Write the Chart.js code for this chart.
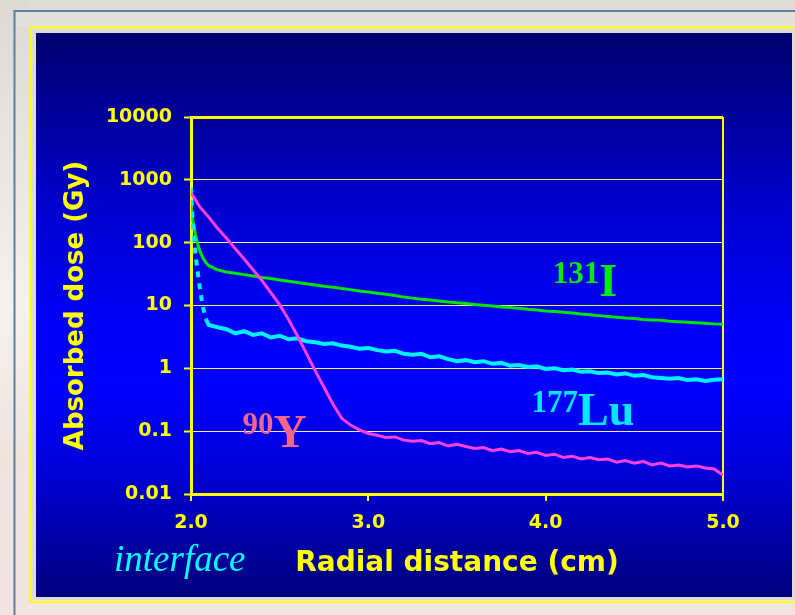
<!DOCTYPE html>
<html>
<head>
<meta charset="utf-8">
<script src="https://cdn.jsdelivr.net/npm/chart.js@4.4.1/dist/chart.umd.min.js"></script>
<style>
html,body{margin:0;padding:0;background:#dfdbd6;}
canvas{display:block;}
</style>
</head>
<body>
<canvas id="doseChart" width="795" height="615"></canvas>
<script>
// tick values + labels
const xTicks=[2,3,4,5];
const yTicks=[0.01,0.1,1,10,100,1000,10000];
const yTickLabels=['0.01','0.1','1','10','100','1000','10000'];

// 90Y (magenta)
const yX=[2.00,2.05,2.10,2.15,2.20,2.25,2.30,2.35,2.40,2.45,2.50,2.55,2.60,2.65,2.70,2.75,2.80,2.85,2.90,2.95,
  3.00,3.05,3.10,3.15,3.20,3.25,3.30,3.35,3.40,3.45,3.50,3.55,3.60,3.65,3.70,3.75,3.80,3.85,3.90,3.95,
  4.00,4.05,4.10,4.15,4.20,4.25,4.30,4.35,4.40,4.45,4.50,4.55,4.60,4.65,4.70,4.75,4.80,4.85,4.90,4.95,5.00];
const yDose=[620,370,255,170,118,80,55,37,25,16,10.3,6.0,3.3,1.75,0.92,0.5,0.27,0.16,0.125,0.105,
  0.092,0.086,0.079,0.081,0.072,0.069,0.071,0.063,0.066,0.058,0.062,0.057,0.053,0.055,0.049,0.052,0.047,0.049,0.044,0.046,
  0.041,0.043,0.038,0.040,0.036,0.038,0.035,0.036,0.032,0.034,0.031,0.033,0.029,0.031,0.028,0.029,0.027,0.028,0.026,0.025,0.020];

// 177Lu (cyan)
const luX=[2.000,2.008,2.025,2.045,2.065,2.085,2.10,2.15,2.20,2.25,2.30,2.35,2.40,2.45,2.50,2.55,2.60,2.65,2.70,2.75,2.80,2.85,2.90,2.95,
  3.00,3.05,3.10,3.15,3.20,3.25,3.30,3.35,3.40,3.45,3.50,3.55,3.60,3.65,3.70,3.75,3.80,3.85,3.90,3.95,
  4.00,4.05,4.10,4.15,4.20,4.25,4.30,4.35,4.40,4.45,4.50,4.55,4.60,4.65,4.70,4.75,4.80,4.85,4.90,4.95,5.00];
const luDose=[750,240,65,24,10,6.0,4.9,4.5,4.2,3.6,3.9,3.4,3.6,3.1,3.3,2.9,3.0,2.7,2.6,2.45,2.5,2.3,2.2,2.05,
  2.1,1.95,1.85,1.9,1.7,1.65,1.7,1.5,1.55,1.4,1.3,1.35,1.25,1.3,1.18,1.22,1.1,1.13,1.05,1.08,
  0.98,1.0,0.93,0.96,0.88,0.9,0.84,0.86,0.8,0.83,0.76,0.78,0.72,0.7,0.68,0.7,0.65,0.67,0.63,0.66,0.67];

// 131I (green)
const iX=[2.000,2.010,2.025,2.040,2.055,2.070,2.085,2.10,2.15,2.20,2.25,2.30,2.35,2.40,2.45,2.50,2.55,2.60,2.65,2.70,2.75,2.80,2.85,2.90,2.95,
  3.00,3.05,3.10,3.15,3.20,3.25,3.30,3.35,3.40,3.45,3.50,3.55,3.60,3.65,3.70,3.75,3.80,3.85,3.90,3.95,
  4.00,4.05,4.10,4.15,4.20,4.25,4.30,4.35,4.40,4.45,4.50,4.55,4.60,4.65,4.70,4.75,4.80,4.85,4.90,4.95,5.00];
const iDose=[420,230,135,90,68,55,48,43,37,34,32.5,31,29.5,28,26.8,25.5,24.3,23.3,22.2,21.2,20.3,19.6,18.6,17.9,17.0,
  16.4,15.7,15.1,14.4,13.6,13.1,12.6,12.2,11.8,11.4,11.1,10.8,10.4,10.1,9.8,9.5,9.3,9.0,8.7,8.5,
  8.2,8.0,7.8,7.6,7.3,7.1,6.9,6.7,6.5,6.3,6.2,6.0,5.9,5.8,5.6,5.5,5.4,5.3,5.2,5.1,5.05];

// nuclide names written next to the curves (data coords)
const nuclideLabels=[
  {sup:'131',main:'I',x:4.04,y:14.2,color:'#00ee00'},
  {sup:'177',main:'Lu',x:3.92,y:0.126,color:'#00e6ff'},
  {sup:'90',main:'Y',x:2.29,y:0.057,color:'#f2668a'}
];

const yellow='#ffff00';
const toPts=(xs,ys)=>xs.map((x,i)=>({x:x,y:ys[i]}));

// slide background, frames and blue panel
const slideBg={
  id:'slideBg',
  beforeDraw(chart){
    const c=chart.ctx;
    c.save();
    c.fillStyle='#dfdbd6'; c.fillRect(0,0,795,615);
    const side=c.createLinearGradient(0,0,0,615);
    side.addColorStop(0,'#dcd9d4'); side.addColorStop(0.5,'#f4f2ea'); side.addColorStop(0.75,'#eee4de'); side.addColorStop(1,'#f2e4e0');
    c.fillStyle=side; c.fillRect(0,0,30,615); c.fillRect(0,600,795,15);
    c.strokeStyle='#5b7fa6'; c.lineWidth=2;
    c.beginPath(); c.moveTo(14.5,615); c.lineTo(14.5,11); c.lineTo(795,11); c.stroke();
    c.fillStyle='#e3dfdb'; c.fillRect(16,12,779,15);
    c.strokeStyle=yellow; c.lineWidth=2;
    c.strokeRect(30.5,27.5,800,574.5);
    const g=c.createLinearGradient(0,33,0,597);
    g.addColorStop(0,'#000070'); g.addColorStop(0.15,'#00009c'); g.addColorStop(0.3,'#0000cc');
    g.addColorStop(0.5,'#0000f6'); g.addColorStop(0.62,'#0000ff'); g.addColorStop(0.76,'#0000de');
    g.addColorStop(0.9,'#0000a6'); g.addColorStop(1,'#00007c');
    c.fillStyle=g; c.fillRect(36,33,756,564);
    c.restore();
  }
};

// isotope names + "interface"
const isoText={
  id:'isoText',
  afterDraw(chart){
    const c=chart.ctx, sx=chart.scales.x, sy=chart.scales.y;
    c.save();
    c.textBaseline='alphabetic'; c.textAlign='left';
    nuclideLabels.forEach(l=>{
      const px=sx.getPixelForValue(l.x), py=sy.getPixelForValue(l.y);
      c.fillStyle=l.color;
      c.font='bold 31px "Liberation Serif", serif';
      c.fillText(l.sup,px,py-13);
      const w=c.measureText(l.sup).width;
      c.font='bold 46px "Liberation Serif", serif';
      c.fillText(l.main,px+w,py);
    });
    c.fillStyle='#00ffff';
    c.font='italic 37px "Liberation Serif", serif';
    c.fillText('interface',sx.getPixelForValue(2)-77,571);
    c.restore();
  }
};

const tickFont={family:'"DejaVu Sans", Verdana, sans-serif',weight:'bold',size:19};
const xTitleFont={family:'"DejaVu Sans", Verdana, sans-serif',weight:'bold',size:28};
const yTitleFont={family:'"DejaVu Sans", Verdana, sans-serif',weight:'bold',size:26};

new Chart(document.getElementById('doseChart'),{
  type:'line',
  data:{
    datasets:[
      {label:'90Y',data:toPts(yX,yDose),borderColor:'#ff40e0',borderWidth:3},
      {label:'177Lu',data:toPts(luX,luDose),borderColor:'#00f0ff',borderWidth:4,
        segment:{borderDash:s=>s.p1.parsed.x<=2.09?[6,6]:undefined}},
      {label:'131I',data:toPts(iX,iDose),borderColor:'#00e400',borderWidth:3}
    ]
  },
  options:{
    responsive:false,
    animation:false,
    layout:{padding:{left:61,top:117,right:72,bottom:34}},
    elements:{point:{radius:0},line:{tension:0}},
    plugins:{legend:{display:false},tooltip:{enabled:false}},
    scales:{
      x:{
        type:'linear',min:2,max:5,
        afterBuildTicks:s=>{s.ticks=xTicks.map(v=>({value:v}));},
        afterFit:s=>{s.height=87;},
        ticks:{color:yellow,font:tickFont,padding:11,maxRotation:0,callback:v=>v.toFixed(1)},
        grid:{
          color:c=>c.tick&&c.tick.value===5?yellow:'rgba(0,0,0,0)',
          lineWidth:2,tickLength:7,tickColor:yellow,tickWidth:2
        },
        border:{color:yellow,width:3},
        title:{display:true,text:'Radial distance (cm)',color:yellow,font:xTitleFont,padding:0}
      },
      y:{
        type:'logarithmic',min:0.01,max:10000,
        afterBuildTicks:s=>{s.ticks=yTicks.map(v=>({value:v}));},
        afterFit:s=>{s.width=130;},
        ticks:{color:yellow,font:tickFont,padding:12,callback:(v,i)=>yTickLabels[i]},
        grid:{
          color:c=>{
            const v=c.tick&&c.tick.value;
            if(v===10000) return yellow;
            if(v===100||v===0.1) return '#eeeecc';
            return '#f4f070';
          },
          lineWidth:c=>c.tick&&c.tick.value===10000?3:1,
          tickLength:7,tickColor:yellow,tickWidth:2
        },
        border:{color:yellow,width:3},
        title:{display:true,text:'Absorbed dose (Gy)',color:yellow,font:yTitleFont,padding:0}
      }
    }
  },
  plugins:[slideBg,isoText]
});
</script>
</body>
</html>
